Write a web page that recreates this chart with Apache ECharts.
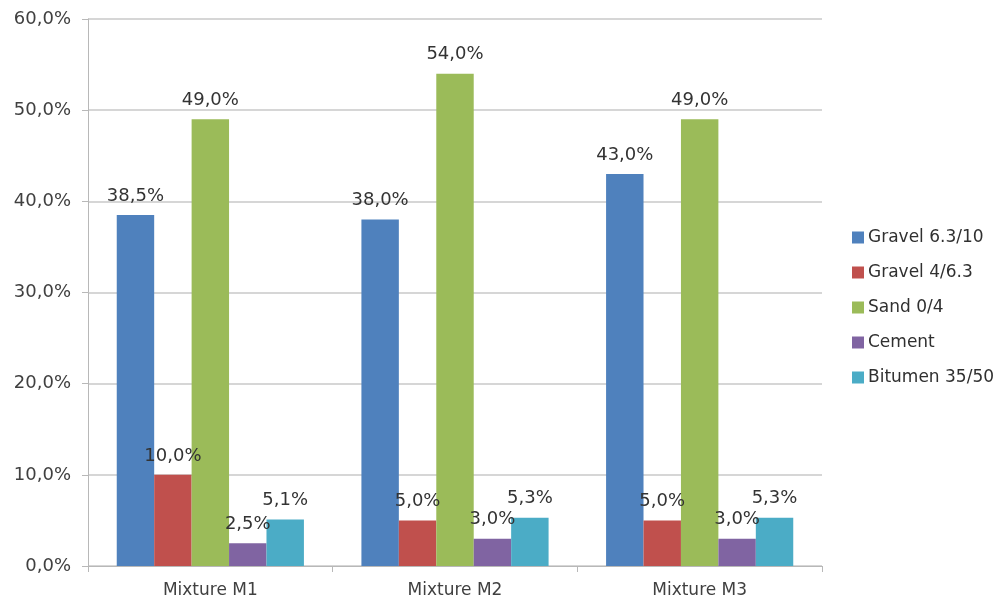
<!DOCTYPE html>
<html>
<head>
<meta charset="utf-8">
<script src="https://cdn.jsdelivr.net/npm/echarts@6/dist/echarts.min.js"></script>
<style>
  html, body { margin: 0; padding: 0; background: #fff; }
  #chart { width: 1008px; height: 604px; }
</style>
</head>
<body>
<div id="chart"></div>
<script>
// Mix composition per mixture (percent)
const categories = ['Mixture M1', 'Mixture M2', 'Mixture M3'];
const seriesNames = ['Gravel 6.3/10', 'Gravel 4/6.3', 'Sand 0/4', 'Cement', 'Bitumen 35/50'];
const gravel63_10 = [38.5, 38.0, 43.0];
const gravel4_63 = [10.0, 5.0, 5.0];
const sand0_4 = [49.0, 54.0, 49.0];
const cement = [2.5, 3.0, 3.0];
const bitumen35_50 = [5.1, 5.3, 5.3];
const seriesValues = [gravel63_10, gravel4_63, sand0_4, cement, bitumen35_50];
const colors = ['#4F81BD', '#C0504D', '#9BBB59', '#8064A2', '#4BACC6'];

const fmt = v => v.toFixed(1).replace('.', ',') + '%';
const FONT = 'DejaVu Sans, Verdana, sans-serif';
const TEXT = '#404040';

const chart = echarts.init(document.getElementById('chart'), null, { renderer: 'canvas' });

chart.setOption({
  animation: false,
  backgroundColor: '#ffffff',
  color: colors,
  grid: { left: 88, right: 186, top: 19, bottom: 38, containLabel: false },
  legend: {
    orient: 'vertical',
    left: 852,
    top: 229,
    padding: 0,
    itemWidth: 12,
    itemHeight: 12,
    itemGap: 18,
    icon: 'rect',
    textStyle: { fontFamily: FONT, fontSize: 17, color: '#303030', padding: [0, 0, 0, -1] },
    data: seriesNames
  },
  xAxis: {
    type: 'category',
    data: categories,
    axisLine: { show: true, lineStyle: { color: '#b8b8b8', width: 1 } },
    axisTick: { show: true, length: 6, lineStyle: { color: '#b8b8b8' } },
    axisLabel: { fontFamily: FONT, fontSize: 17, color: TEXT, margin: 16 }
  },
  yAxis: {
    type: 'value',
    min: 0,
    max: 60,
    interval: 10,
    axisLine: { show: true, lineStyle: { color: '#b8b8b8', width: 1 } },
    axisTick: { show: true, length: 6, lineStyle: { color: '#b8b8b8' } },
    splitLine: { show: true, lineStyle: { color: '#c8c8c8', width: 1.5 } },
    axisLabel: { fontFamily: FONT, fontSize: 18, color: TEXT, margin: 17, formatter: fmt }
  },
  series: seriesNames.map((name, i) => ({
    name,
    type: 'bar',
    data: seriesValues[i],
    barGap: '0%',
    barCategoryGap: '23.5%',
    itemStyle: { color: colors[i] },
    label: {
      show: true,
      position: 'top',
      distance: 10,
      fontFamily: FONT,
      fontSize: 18,
      color: '#333333',
      formatter: p => fmt(p.value)
    }
  }))
});
</script>
</body>
</html>
